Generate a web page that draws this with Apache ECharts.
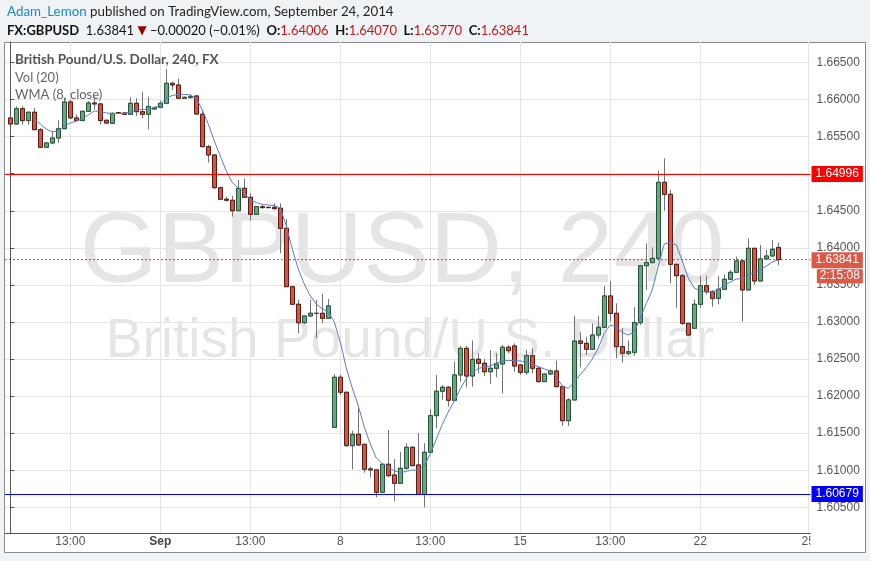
<!DOCTYPE html>
<html><head><meta charset="utf-8">
<script src="https://cdn.jsdelivr.net/npm/echarts@6/dist/echarts.min.js"></script>
<style>html,body{margin:0;padding:0;background:#f0f3f6;}#c{width:870px;height:561px;}</style>
</head><body><div id="c"></div>
<script>
// ---- data (GBPUSD, 240 min bars) ----
const opens = [
1.65752,1.65671,1.65877,1.65717,1.65829,1.65594,1.65357,1.65415,1.65482,1.65607,
1.65968,1.65752,1.65717,1.65842,1.65954,1.65941,1.65721,1.65680,1.65825,1.65819,
1.65802,1.65950,1.65837,1.65802,1.65873,1.65896,1.65950,1.66220,1.66197,1.66018,
1.66026,1.66049,1.65802,1.65365,1.65253,1.64812,1.64656,1.64642,1.64501,1.64803,
1.64682,1.64453,1.64555,1.64547,1.64547,1.64534,1.64264,1.63476,1.63239,1.62990,
1.63081,1.63115,1.63117,1.63050,1.61579,1.62254,1.62052,1.61331,1.61485,1.61350,
1.61017,1.61004,1.60702,1.61080,1.60936,1.60824,1.61026,1.61310,1.61071,1.60675,
1.61242,1.61736,1.62065,1.62119,1.61944,1.62285,1.62645,1.62271,1.62497,1.62443,
1.62329,1.62375,1.62433,1.62659,1.62676,1.62420,1.62321,1.62545,1.62375,1.62195,
1.62298,1.62339,1.62127,1.61668,1.61948,1.62743,1.62712,1.62632,1.62824,1.62928,
1.63351,1.63117,1.62667,1.62578,1.62591,1.62990,1.63759,1.63800,1.63859,1.64884,
1.64722,1.63778,1.63624,1.62982,1.62915,1.63239,1.63489,1.63409,1.63319,1.63441,
1.63576,1.63670,1.63823,1.63432,1.63994,1.63553,1.63850,1.63890,1.64006];
const closes = [
1.65671,1.65877,1.65717,1.65829,1.65594,1.65357,1.65415,1.65482,1.65607,1.65968,
1.65752,1.65717,1.65842,1.65954,1.65941,1.65717,1.65684,1.65815,1.65815,1.65802,
1.65950,1.65837,1.65802,1.65906,1.65891,1.65950,1.66220,1.66197,1.66018,1.66031,
1.66039,1.65806,1.65365,1.65253,1.64812,1.64656,1.64642,1.64501,1.64803,1.64682,
1.64453,1.64555,1.64542,1.64542,1.64528,1.64264,1.63476,1.63239,1.62990,1.63081,
1.63117,1.63117,1.63050,1.63216,1.62254,1.62052,1.61331,1.61485,1.61341,1.61013,
1.61004,1.60702,1.61080,1.60927,1.60824,1.61026,1.61310,1.61061,1.60675,1.61242,
1.61736,1.62065,1.62119,1.61944,1.62285,1.62645,1.62271,1.62497,1.62443,1.62329,
1.62375,1.62433,1.62659,1.62613,1.62406,1.62321,1.62545,1.62375,1.62195,1.62298,
1.62339,1.62127,1.61668,1.61948,1.62743,1.62712,1.62632,1.62824,1.62928,1.63351,
1.63117,1.62667,1.62578,1.62599,1.62993,1.63759,1.63800,1.63859,1.64884,1.64722,
1.63778,1.63624,1.62982,1.62824,1.63239,1.63489,1.63409,1.63319,1.63441,1.63576,
1.63670,1.63823,1.63432,1.63994,1.63553,1.63850,1.63890,1.63981,1.63841];
const highs = [
1.65775,1.65910,1.65910,1.65842,1.65887,1.65617,1.65428,1.65572,1.65721,1.66022,
1.65999,1.65798,1.65852,1.65977,1.66045,1.65954,1.65730,1.65825,1.65833,1.65829,
1.66031,1.66018,1.66099,1.66039,1.65906,1.65985,1.66409,1.66241,1.66287,1.66039,
1.66072,1.66055,1.65860,1.65388,1.65258,1.64825,1.64690,1.64700,1.64915,1.64938,
1.64736,1.64565,1.64578,1.64551,1.64601,1.64601,1.64385,1.63480,1.63297,1.63085,
1.63297,1.63297,1.63378,1.63310,1.62298,1.62289,1.62056,1.61533,1.61836,1.61354,
1.61048,1.61008,1.61094,1.61543,1.61152,1.61246,1.61364,1.61321,1.61498,1.61364,
1.61826,1.62285,1.62150,1.62137,1.62464,1.62676,1.62676,1.62748,1.62578,1.62497,
1.62622,1.62578,1.62690,1.62690,1.62712,1.62425,1.62622,1.62645,1.62397,1.62308,
1.62362,1.62478,1.62132,1.61971,1.63081,1.62861,1.62801,1.62982,1.63081,1.63486,
1.63553,1.63252,1.62915,1.62748,1.63198,1.63763,1.64061,1.64007,1.65041,1.65208,
1.64781,1.63782,1.63647,1.62986,1.63306,1.63620,1.63620,1.63432,1.63620,1.63643,
1.63701,1.63881,1.63830,1.64129,1.63998,1.64039,1.63971,1.64106,1.64070];
const lows = [
1.65653,1.65661,1.65661,1.65661,1.65590,1.65352,1.65347,1.65401,1.65415,1.65607,
1.65742,1.65707,1.65717,1.65833,1.65864,1.65661,1.65671,1.65680,1.65806,1.65792,
1.65792,1.65779,1.65748,1.65599,1.65866,1.65883,1.65950,1.66130,1.66015,1.66008,
1.66018,1.65792,1.65357,1.65149,1.64790,1.64646,1.64623,1.64420,1.64498,1.64680,
1.64366,1.64450,1.64534,1.64538,1.64520,1.63927,1.63472,1.63229,1.62847,1.62973,
1.63071,1.62780,1.62982,1.63046,1.61575,1.62015,1.61318,1.61013,1.61327,1.60967,
1.60905,1.60635,1.60698,1.60905,1.60576,1.60820,1.61004,1.61057,1.60666,1.60500,
1.61238,1.61566,1.61948,1.61857,1.61940,1.62195,1.62119,1.62127,1.62308,1.62271,
1.62163,1.62254,1.62038,1.62578,1.62329,1.62285,1.62285,1.62308,1.62181,1.62191,
1.62285,1.62119,1.61597,1.61597,1.61944,1.62389,1.62555,1.62622,1.62780,1.62925,
1.63004,1.62510,1.62451,1.62555,1.62545,1.62959,1.63432,1.63796,1.63855,1.64501,
1.63522,1.63193,1.62959,1.62811,1.62911,1.63193,1.63373,1.63206,1.63239,1.63438,
1.63566,1.63666,1.63004,1.63428,1.63499,1.63549,1.63846,1.63886,1.63770];
const wma8 = [null,null,null,null,
1.65732,1.65671,1.65603,1.65563,1.65583,1.65644,
1.65684,1.65711,1.65738,1.65792,1.65846,1.65839,1.65819,1.65812,1.65812,1.65815,
1.65833,1.65860,1.65866,1.65869,1.65893,1.65927,1.66022,1.66055,1.66072,1.66069,
1.66062,1.66015,1.65860,1.65671,1.65442,1.65239,1.65037,1.64882,1.64808,1.64747,
1.64639,1.64612,1.64585,1.64578,1.64571,1.64538,1.64295,1.63985,1.63715,1.63512,
1.63351,1.63243,1.63175,1.63135,1.63000,1.62730,1.62379,1.62109,1.61867,1.61583,
1.61354,1.61165,1.61091,1.61044,1.60990,1.60970,1.60983,1.61003,1.61003,1.61057,
1.61219,1.61421,1.61617,1.61786,1.61934,1.62096,1.62238,1.62325,1.62372,1.62393,
1.62406,1.62447,1.62474,1.62480,1.62480,1.62474,1.62460,1.62433,1.62399,1.62366,
1.62339,1.62258,1.62137,1.62103,1.62190,1.62291,1.62386,1.62501,1.62649,1.62845,
1.62959,1.62932,1.62858,1.62824,1.62865,1.63054,1.63249,1.63432,1.63755,1.64052,
1.64072,1.64039,1.63823,1.63593,1.63458,1.63418,1.63404,1.63404,1.63438,1.63485,
1.63539,1.63580,1.63580,1.63634,1.63661,1.63701,1.63755,1.63809,1.63836];
const timeTickBars = [10, 25, 40, 55, 70, 85, 100, 115, 133];
const timeTickLabels = ['13:00', 'Sep', '13:00', '8', '13:00', '15', '13:00', '22', '25'];
const priceTicks = [1.605,1.61,1.615,1.62,1.625,1.63,1.635,1.64,1.645,1.65,1.655,1.66,1.665];
const resistance = 1.64996;
const support = 1.60679;
const lastPrice = 1.63841;
const countdown = '2:15:08';
const header1 = ['Adam_Lemon', 'published on TradingView.com, September 24, 2014'];
const quote = {sym:'FX:GBPUSD', last:'1.63841', chg:'\u22120.00020 (\u22120.01%)', O:'1.64006', H:'1.64070', L:'1.63770', C:'1.63841'};
const legendLines = ['British Pound/U.S. Dollar, 240, FX', 'Vol (20)', 'WMA (8, close)'];
const watermark = ['GBPUSD, 240', 'British Pound/U.S. Dollar'];

// ---- chart ----
const chart = echarts.init(document.getElementById('c'), null, {renderer: 'canvas'});
const X_MIN = -0.883, X_MAX = 133.37;
const wickData = opens.map((o, i) => [i, o, closes[i], lows[i], highs[i]]);
const bodyData = opens.map((o, i) => [i, o, closes[i], Math.min(o, closes[i]), Math.max(o, closes[i])]);
const wmaData = wma8.map((v, i) => [i, v]);
const AX = 'Liberation Sans, Arial, sans-serif';
const UI = 'Lato, sans-serif';
const tickLabelOf = {};
timeTickBars.forEach((b, k) => { tickLabelOf[b] = timeTickLabels[k]; });

chart.setOption({
  animation: false,
  backgroundColor: '#f0f3f6',
  grid: {left: 5, right: 59.5, top: 42, bottom: 28, containLabel: false},
  xAxis: {
    type: 'value', min: X_MIN, max: X_MAX,
    axisLine: {show: true, lineStyle: {color: '#555', width: 1}},
    axisTick: {show: false, customValues: timeTickBars},
    axisLabel: {
      customValues: timeTickBars, margin: 3, fontFamily: AX, fontSize: 12, color: '#555',
      formatter: v => { const t = tickLabelOf[Math.round(v)] || ''; return t === 'Sep' ? '{m|Sep}' : t; },
      rich: {m: {fontWeight: 'bold', fontFamily: AX, fontSize: 12, color: '#444'}}
    },
    splitLine: {show: true, lineStyle: {color: '#e4e4e4', width: 1}}
  },
  yAxis: {
    type: 'value', position: 'right', min: 1.60153, max: 1.66777, scale: true,
    axisLine: {show: true, lineStyle: {color: '#555', width: 1}},
    axisTick: {show: true, length: 4, customValues: priceTicks, lineStyle: {color: '#555'}},
    axisLabel: {customValues: priceTicks, margin: 6, fontFamily: AX, fontSize: 12, color: '#555',
      formatter: v => v.toFixed(5)},
    splitLine: {show: true, lineStyle: {color: '#e4e4e4', width: 1}}
  },
  graphic: [
    {type: 'rect', z: -20, silent: true, shape: {x: 4.5, y: 42.5, width: 861, height: 510},
      style: {fill: '#ffffff', stroke: '#8a8a8a', lineWidth: 1}},
    {type: 'text', z: -10, silent: true, x: 402, y: 254,
      style: {text: watermark[0], font: '100px ' + AX, fill: 'rgba(0,0,0,0.1)', textAlign: 'center', textVerticalAlign: 'middle'}},
    {type: 'text', z: -10, silent: true, x: 410, y: 342,
      style: {text: watermark[1], font: '55px ' + AX, fill: 'rgba(0,0,0,0.1)', textAlign: 'center', textVerticalAlign: 'middle'}},
    {type: 'text', z: 50, silent: true, x: 15, y: 60,
      style: {text: legendLines[0], font: 'bold 13.5px ' + UI, fill: '#555', textVerticalAlign: 'middle'}},
    {type: 'text', z: 50, silent: true, x: 15, y: 77.5,
      style: {text: legendLines[1], font: '13px ' + UI, fill: '#666', textVerticalAlign: 'middle'}},
    {type: 'text', z: 50, silent: true, x: 15, y: 94.5,
      style: {text: legendLines[2], font: '13px ' + UI, fill: '#666', textVerticalAlign: 'middle'}},
    {type: 'text', z: 50, silent: true, x: 7, y: 12,
      style: {text: '{u|' + header1[0] + '} {n|' + header1[1] + '}', textVerticalAlign: 'middle',
        rich: {u: {font: '13.4px ' + UI, fill: '#1d87c8'}, n: {font: '13.3px ' + UI, fill: '#222'}}}},
    {type: 'text', z: 50, silent: true, x: 7, y: 31,
      style: {text: '{b|' + quote.sym + '}  {n|' + quote.last + '} {t|\u25BC} {n|' + quote.chg + '}  {b|O:}{r|' + quote.O + '}  {b|H:}{r|' + quote.H + '}  {b|L:}{r|' + quote.L + '}  {b|C:}{r|' + quote.C + '}',
        textVerticalAlign: 'middle',
        rich: {b: {font: 'bold 13px ' + UI, fill: '#111'}, n: {font: '13px ' + UI, fill: '#111'},
          t: {font: '12px DejaVu Sans', fill: '#9a0000'}, r: {font: '13px ' + UI, fill: '#c0181b'}}}},
    {type: 'rect', z: 100, silent: true, shape: {x: 810.5, y: 535, width: 12, height: 16}, style: {fill: '#ffffff'}}
  ],
  series: [
    {type: 'candlestick', name: 'wick', data: wickData, encode: {x: 0, y: [1, 2, 3, 4]}, barWidth: 4,
      itemStyle: {color: '#737375', color0: '#737375', borderColor: '#737375', borderColor0: '#737375', borderWidth: 1}},
    {type: 'candlestick', name: 'GBPUSD', data: bodyData, encode: {x: 0, y: [1, 2, 3, 4]}, barWidth: 4,
      itemStyle: {color: '#6ba583', color0: '#d75442', borderColor: '#225437', borderColor0: '#5b1a13', borderWidth: 1}},
    {type: 'line', name: 'last price', data: [[X_MIN, lastPrice], [X_MAX, lastPrice]], showSymbol: false, symbol: 'none',
      color: '#f0321e', lineStyle: {color: '#f0321e', type: [2, 2], width: 1}, z: 2, silent: true,
      markLine: {
        silent: true, symbol: ['none', 'none'], animation: false, precision: 5,
        lineStyle: {color: 'rgba(255,255,255,0)', width: 1, type: 'solid'},
        label: {show: true, position: 'end', distance: 1, fontFamily: AX, fontSize: 12, color: '#fff',
          formatter: '{g| }\n{a|' + lastPrice.toFixed(5) + '}\n{b|' + countdown + '}',
          rich: {
            g: {fontSize: 12, lineHeight: 17, height: 17},
            a: {fontFamily: AX, fontSize: 12, color: '#fff', backgroundColor: '#da5a47', padding: [2, 4, 2, 4], lineHeight: 16},
            b: {fontFamily: AX, fontSize: 12, color: '#fff', backgroundColor: '#da5a47', padding: [1, 3, 1, 3], lineHeight: 16, align: 'right'}
          }},
        data: [{yAxis: lastPrice}]
      }},
    {type: 'line', name: 'WMA (8, close)', data: wmaData, showSymbol: false, symbol: 'none',
      lineStyle: {color: '#5a7cc4', width: 1}, z: 3,
      markLine: {
        silent: true, symbol: ['none', 'none'], animation: false, precision: 5,
        label: {position: 'end', distance: 1, fontFamily: AX, fontSize: 12, color: '#fff'},
        data: [
          {yAxis: resistance, lineStyle: {color: '#ff0000', type: 'solid', width: 1, opacity: 1},
            label: {formatter: resistance.toFixed(5), backgroundColor: '#ff0000', padding: [2, 4, 2, 4]}},
          {yAxis: support, lineStyle: {color: '#0000ff', type: 'solid', width: 1, opacity: 1},
            label: {formatter: support.toFixed(5), backgroundColor: '#0000ff', padding: [2, 4, 2, 4]}}
        ]
      }}
  ]
});
</script></body></html>
